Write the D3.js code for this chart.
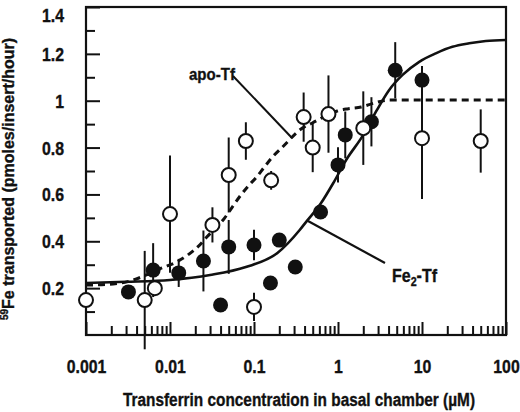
<!DOCTYPE html>
<html>
<head>
<meta charset="utf-8">
<script src="https://cdn.jsdelivr.net/npm/d3@7"></script>
<style>
  body { margin: 0; background: #fff; }
  svg text { font-family: "Liberation Sans", Arial, sans-serif; font-weight: bold; fill: #111; stroke: #111; stroke-width: 0.35px; }
</style>
</head>
<body>
<svg id="chart" width="520" height="412"></svg>
<script>
// apo-Tf (open circles)
var apoX   = [0.001, 0.005, 0.0066, 0.01, 0.032, 0.05, 0.08, 0.1, 0.16, 0.39, 0.5, 0.77, 2, 10, 50];
var apoY   = [0.149, 0.149, 0.20, 0.516, 0.47, 0.683, 0.828, 0.12, 0.66, 0.93, 0.80, 0.943, 0.883, 0.84, 0.828];
var apoErr = [0, 0.21, 0.03, 0.25, 0.075, 0.16, 0.08, 0.06, 0.04, 0.105, 0.105, 0.165, 0.157, 0.26, 0.135];

// Fe2-Tf (filled circles)
var feX   = [0.0032, 0.0063, 0.0127, 0.025, 0.04, 0.05, 0.1, 0.157, 0.2, 0.31, 0.62, 1.0, 1.22, 2.5, 4.8, 10];
var feY   = [0.184, 0.277, 0.265, 0.316, 0.128, 0.376, 0.384, 0.222, 0.405, 0.29, 0.525, 0.726, 0.854, 0.91, 1.13, 1.088];
var feErr = [0, 0.115, 0.06, 0.13, 0, 0.115, 0.065, 0, 0, 0, 0.03, 0.075, 0.1, 0.105, 0.12, 0.06];

// fitted curves
var apoCurveX = [0.001, 0.0021, 0.00315, 0.0046, 0.008, 0.012, 0.0162, 0.0214, 0.0274, 0.0446, 0.0541, 0.067, 0.0836, 0.107, 0.133, 0.166, 0.218, 0.376, 0.495, 0.98, 1.29, 1.89, 2.7, 4.1, 10, 100];
var apoCurveY = [0.213, 0.218, 0.228, 0.248, 0.286, 0.312, 0.341, 0.376, 0.418, 0.499, 0.542, 0.589, 0.632, 0.674, 0.717, 0.76, 0.802, 0.883, 0.905, 0.956, 0.965, 0.973, 0.99, 1.003, 1.003, 1.003];
var feCurveX = [0.001, 0.003, 0.01, 0.03, 0.08, 0.19, 0.35, 0.42, 0.62, 0.9, 1.25, 2.0, 2.83, 4.07, 5.87, 9.27, 14.6, 23, 36.5, 57.5, 100];
var feCurveY = [0.222, 0.227, 0.235, 0.256, 0.29, 0.35, 0.448, 0.484, 0.56, 0.655, 0.747, 0.854, 0.953, 1.046, 1.11, 1.166, 1.202, 1.23, 1.245, 1.255, 1.259];

var xTickValues = [0.001, 0.01, 0.1, 1, 10, 100];
var xTickLabels = ["0.001", "0.01", "0.1", "1", "10", "100"];
var yTickValues = [0.2, 0.4, 0.6, 0.8, 1.0, 1.2, 1.4];
var yTickLabels = ["0.2", "0.4", "0.6", "0.8", "1", "1.2", "1.4"];

var svg = d3.select('#chart');
var plotL = 86, plotR = 506, plotT = 7, plotB = 335;

var x = d3.scaleLog().domain([0.001, 100]).range([plotL, plotR]);
var y = d3.scaleLinear().domain([0, 1.4]).range([plotB, plotT]);

// minor ticks
svg.append('g')
    .attr('transform', `translate(0,${plotB})`)
    .call(d3.axisBottom(x).tickValues(x.ticks().filter(d => xTickValues.indexOf(d) < 0)).tickSize(-9).tickFormat(''))
    .call(g => g.select('.domain').remove())
    .selectAll('line').attr('stroke', '#111').attr('stroke-width', 2);

svg.append('g')
    .attr('transform', `translate(${plotL},0)`)
    .call(d3.axisLeft(y).tickValues(d3.range(1, 14, 2).map(d => d / 10)).tickSize(-9).tickFormat(''))
    .call(g => g.select('.domain').remove())
    .selectAll('line').attr('stroke', '#111').attr('stroke-width', 2);

// major ticks + labels
var gx = svg.append('g')
    .attr('transform', `translate(0,${plotB})`)
    .call(d3.axisBottom(x).tickValues(xTickValues).tickSize(-13).tickPadding(25)
        .tickFormat((d, i) => xTickLabels[i]))
    .call(g => g.select('.domain').remove());
gx.selectAll('line').attr('stroke', '#111').attr('stroke-width', 2);
gx.selectAll('text').attr('font-size', 18).attr('fill', '#111')
    .attr('font-family', '"Liberation Sans", Arial, sans-serif').attr('font-weight', 'bold')
    .attr('transform', 'scale(0.88,1)');

var gy = svg.append('g')
    .attr('transform', `translate(${plotL},0)`)
    .call(d3.axisLeft(y).tickValues(yTickValues).tickSize(-14)
        .tickFormat((d, i) => yTickLabels[i]))
    .call(g => g.select('.domain').remove());
gy.selectAll('line').attr('stroke', '#111').attr('stroke-width', 2);
gy.selectAll('text').attr('font-size', 18).attr('fill', '#111')
    .attr('font-family', '"Liberation Sans", Arial, sans-serif').attr('font-weight', 'bold')
    .attr('x', -25).attr('dy', d => d === 1.4 ? '0.8em' : '0.36em')
    .attr('transform', 'scale(0.88,1)');

// frame
svg.append('rect')
    .attr('x', plotL).attr('y', plotT)
    .attr('width', plotR - plotL).attr('height', plotB - plotT)
    .attr('fill', 'none').attr('stroke', '#111').attr('stroke-width', 2.2);

// curves
var line = d3.line().x(d => x(d[0])).y(d => y(d[1])).curve(d3.curveMonotoneX);
svg.append('path')
    .datum(feCurveX.map((d, i) => [d, feCurveY[i]]))
    .attr('d', line)
    .attr('fill', 'none').attr('stroke', '#111').attr('stroke-width', 2.6);
svg.append('path')
    .datum(apoCurveX.map((d, i) => [d, apoCurveY[i]]))
    .attr('d', line)
    .attr('fill', 'none').attr('stroke', '#111').attr('stroke-width', 3)
    .attr('stroke-dasharray', '7,5');

// error bars
var apoData = apoX.map((d, i) => ({x: d, y: apoY[i], e: apoErr[i]}));
var feData = feX.map((d, i) => ({x: d, y: feY[i], e: feErr[i]}));

svg.append('g').selectAll('line')
    .data(apoData.concat(feData).filter(d => d.e > 0))
    .enter().append('line')
    .attr('x1', d => x(d.x)).attr('x2', d => x(d.x))
    .attr('y1', d => y(d.y - d.e)).attr('y2', d => y(d.y + d.e))
    .attr('stroke', '#111').attr('stroke-width', 2);

// points
svg.append('g').selectAll('circle')
    .data(feData)
    .enter().append('circle')
    .attr('cx', d => x(d.x)).attr('cy', d => y(d.y))
    .attr('r', 7.5)
    .attr('fill', '#111');

svg.append('g').selectAll('circle')
    .data(apoData)
    .enter().append('circle')
    .attr('cx', d => x(d.x)).attr('cy', d => y(d.y))
    .attr('r', 7)
    .attr('fill', '#fff').attr('stroke', '#111').attr('stroke-width', 2);

// annotations
svg.append('text')
    .attr('x', 189).attr('y', 80)
    .attr('font-size', 17)
    .attr('textLength', 46).attr('lengthAdjust', 'spacingAndGlyphs')
    .text('apo-Tf');
svg.append('line')
    .attr('x1', 233).attr('y1', 76).attr('x2', 292).attr('y2', 138)
    .attr('stroke', '#111').attr('stroke-width', 2);

svg.append('line')
    .attr('x1', 308).attr('y1', 221).attr('x2', 385).attr('y2', 263)
    .attr('stroke', '#111').attr('stroke-width', 2.2);
var fe = svg.append('text')
    .attr('x', 392).attr('y', 282)
    .attr('font-size', 18)
    .attr('textLength', 45).attr('lengthAdjust', 'spacingAndGlyphs');
fe.append('tspan').text('Fe');
fe.append('tspan').attr('font-size', 12).attr('dy', 4).text('2');
fe.append('tspan').attr('dy', -4).text('-Tf');

// axis titles
svg.append('text')
    .attr('x', 123).attr('y', 406)
    .attr('font-size', 18)
    .attr('textLength', 352).attr('lengthAdjust', 'spacingAndGlyphs')
    .text('Transferrin concentration in basal chamber (\u00b5M)');

var yt = svg.append('text')
    .attr('transform', 'translate(14,320) rotate(-90)')
    .attr('x', 0).attr('y', 0)
    .attr('font-size', 16)
    .attr('textLength', 282).attr('lengthAdjust', 'spacingAndGlyphs');
yt.append('tspan').attr('font-size', 10).attr('dy', -6).text('59');
yt.append('tspan').attr('dy', 6).text('Fe transported (pmoles/insert/hour)');
</script>
</body>
</html>
